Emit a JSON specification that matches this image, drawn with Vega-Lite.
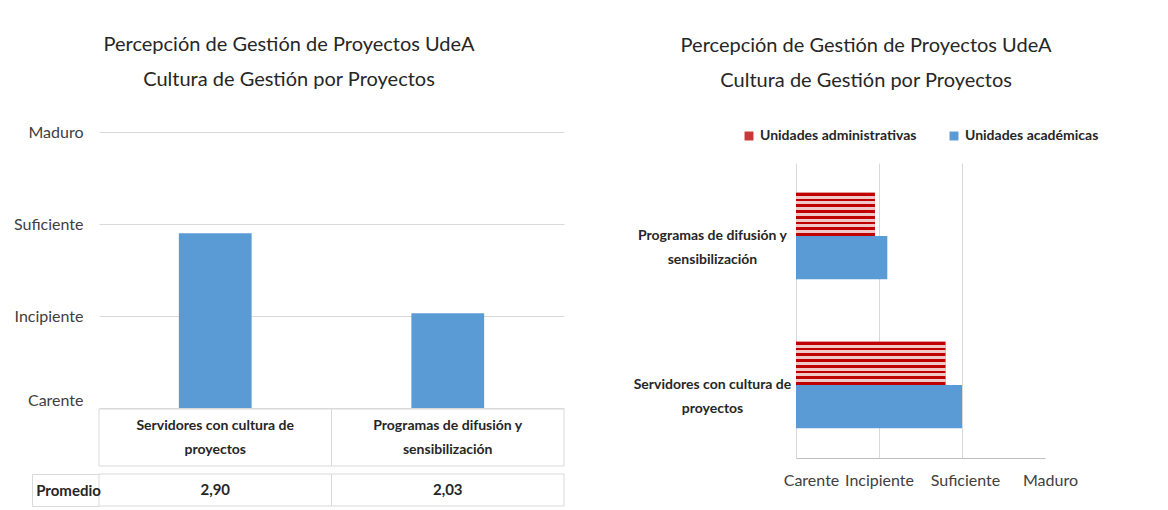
{
  "$schema": "https://vega.github.io/schema/vega-lite/v6.json",
  "background": "white",
  "padding": {"left": 13, "top": 35, "right": 5, "bottom": 5},
  "datasets": {
    "promedio": [
      {"categoria": "Servidores con cultura de proyectos", "valor": 2.90},
      {"categoria": "Programas de difusión y sensibilización", "valor": 2.03}
    ],
    "unidades": [
      {"categoria": "Programas de difusión y sensibilización", "serie": "Unidades administrativas", "valor": 1.95},
      {"categoria": "Programas de difusión y sensibilización", "serie": "Unidades académicas", "valor": 2.10},
      {"categoria": "Servidores con cultura de proyectos", "serie": "Unidades administrativas", "valor": 2.80},
      {"categoria": "Servidores con cultura de proyectos", "serie": "Unidades académicas", "valor": 3.00}
    ]
  },
  "config": {
    "font": "Lato",
    "locale": {"number": {"decimal": ",", "thousands": ".", "grouping": [3], "currency": ["$", ""]}},
    "view": {"stroke": null},
    "axis": {"labelColor": "#404040", "gridColor": "#d9d9d9", "domainColor": "#d9d9d9", "tickColor": "#d9d9d9", "labelLimit": 400},
    "legend": {"layout": {"bottom": {"anchor": "middle"}, "top": {"anchor": "middle"}}, "labelLimit": 400},
    "title": {"color": "#262626"}
  },
  "resolve": {"scale": {"color": "independent"}, "legend": {"color": "independent"}},
  "spacing": 68,
  "hconcat": [
    {
      "title": {
        "text": ["Percepción de Gestión de Proyectos UdeA", "Cultura de Gestión por Proyectos"],
        "fontSize": 20, "lineHeight": 35, "fontWeight": "normal", "anchor": "middle", "frame": "bounds", "offset": 34
      },
      "spacing": 0,
      "vconcat": [
        {
          "width": 465, "height": 276,
          "data": {"name": "promedio"},
          "mark": {"type": "bar", "color": "#5b9bd5", "width": {"band": 0.313}},
          "encoding": {
            "x": {"field": "categoria", "type": "nominal", "sort": null, "scale": {"paddingInner": 0, "paddingOuter": 0}, "axis": null},
            "y": {
              "field": "valor", "type": "quantitative",
              "scale": {"domain": [1, 4], "nice": false, "zero": false},
              "axis": {
                "values": [1, 2, 3, 4], "title": null, "domain": false, "ticks": false,
                "labelExpr": "['', 'Carente', 'Incipiente', 'Suficiente', 'Maduro'][datum.value]",
                "labelFontSize": 16, "labelPadding": 16,
                "labelBaseline": {"condition": {"test": "datum.value === 1", "value": "bottom"}, "value": "middle"}
              }
            },
            "y2": {"datum": 1}
          }
        },
        {
          "width": 465, "height": 57,
          "data": {"name": "promedio"},
          "encoding": {
            "x": {
              "field": "categoria", "type": "nominal", "sort": null,
              "scale": {"paddingInner": 0, "paddingOuter": 0},
              "axis": null
            }
          },
          "layer": [
            {"mark": {"type": "rect", "fill": "white", "stroke": "#d9d9d9", "strokeWidth": 1}},
            {
              "mark": {"type": "text", "fontSize": 14, "fontWeight": "bold", "color": "#262626", "lineHeight": 24, "baseline": "middle", "dy": -12},
              "encoding": {
                "text": {
                  "condition": {"test": "datum.categoria === 'Servidores con cultura de proyectos'", "value": ["Servidores con cultura de", "proyectos"]},
                  "value": ["Programas de difusión y", "sensibilización"]
                }
              }
            }
          ]
        },
        {
          "width": 465, "height": 32,
          "data": {"name": "promedio"},
          "encoding": {
            "x": {
              "field": "categoria", "type": "nominal", "sort": null,
              "scale": {"paddingInner": 0, "paddingOuter": 0},
              "axis": null
            },
            "y": {
              "datum": "Promedio", "type": "nominal",
              "scale": {"type": "band", "paddingInner": 0, "paddingOuter": 0},
              "axis": {
                "title": null, "offset": 67, "domain": true, "ticks": true, "tickBand": "extent", "tickSize": -67,
                "labelAlign": "center", "labelPadding": 31, "labelFontWeight": "bold", "labelFontSize": 15, "labelColor": "#262626"
              }
            }
          },
          "layer": [
            {"mark": {"type": "rect", "fill": "white", "stroke": "#d9d9d9", "strokeWidth": 1}},
            {
              "mark": {"type": "text", "fontWeight": "bold", "fontSize": 15, "color": "#262626"},
              "encoding": {"text": {"field": "valor", "type": "quantitative", "format": ".2f"}}
            }
          ]
        }
      ]
    },
    {
      "title": {
        "text": ["Percepción de Gestión de Proyectos UdeA", "Cultura de Gestión por Proyectos"],
        "fontSize": 20, "lineHeight": 35, "fontWeight": "normal", "anchor": "middle", "frame": "bounds", "offset": 38
      },
      "resolve": {"scale": {"color": "independent"}, "legend": {"color": "independent"}},
      "spacing": 20,
      "vconcat": [
        {
          "width": 249, "height": 1,
          "data": {"name": "unidades"},
          "transform": [{"filter": "false"}],
          "mark": {"type": "rect"},
          "encoding": {
            "color": {
              "field": "serie", "type": "nominal",
              "scale": {"domain": ["Unidades administrativas", "Unidades académicas"], "range": ["#c8383a", "#5b9bd5"]},
              "legend": {
                "orient": "bottom", "direction": "horizontal", "title": null, "symbolType": "square", "symbolSize": 80,
                "labelFontSize": 14, "labelFontWeight": "bold", "labelColor": "#262626", "columnPadding": 30,
                "offset": -4
              }
            }
          }
        },
        {
          "width": 249, "height": 295,
          "data": {"name": "unidades"},
          "encoding": {
            "y": {
              "field": "categoria", "type": "nominal",
              "sort": ["Programas de difusión y sensibilización", "Servidores con cultura de proyectos"],
              "scale": {"paddingInner": 0.42, "paddingOuter": 0.2},
              "axis": {
                "title": null, "domain": false, "ticks": false, "labelAlign": "center", "labelPadding": 84,
                "labelFontSize": 14, "labelFontWeight": "bold", "labelColor": "#262626", "labelLineHeight": 24,
                "labelExpr": "datum.label === 'Servidores con cultura de proyectos' ? ['Servidores con cultura de', 'proyectos'] : ['Programas de difusión y', 'sensibilización']"
              }
            },
            "yOffset": {"field": "serie", "type": "nominal", "sort": ["Unidades administrativas", "Unidades académicas"]},
            "x": {
              "field": "valor", "type": "quantitative",
              "scale": {"domain": [1, 4], "nice": false, "zero": false},
              "axis": {
                "values": [1, 2, 3, 4], "title": null, "ticks": false, "domain": true, "domainColor": "#bfbfbf",
                "labelExpr": "['', 'Carente', 'Incipiente', 'Suficiente', 'Maduro'][datum.value]",
                "labelFontSize": 16, "labelPadding": 14, "labelOverlap": false, "labelFlush": false,
                "labelOffset": {"condition": [{"test": "datum.value === 1", "value": 15}, {"test": "datum.value === 3", "value": 3}, {"test": "datum.value === 4", "value": 5}], "value": 0},
                "gridColor": {"condition": {"test": "datum.value === 4", "value": "transparent"}, "value": "#d9d9d9"}
              }
            },
            "x2": {"datum": 1}
          },
          "layer": [
            {
              "mark": {"type": "bar"},
              "encoding": {
                "color": {
                  "field": "serie", "type": "nominal",
                  "scale": {"domain": ["Unidades administrativas", "Unidades académicas"], "range": ["#c8383a", "#5b9bd5"]},
                  "legend": null
                }
              }
            },
            {
              "transform": [{"filter": "datum.serie === 'Unidades administrativas'"}],
              "mark": {
                "type": "bar",
                "fill": {
                  "gradient": "linear", "x1": 0, "y1": 0, "x2": 0, "y2": 1,
                  "stops": [
                    {"offset": 0, "color": "#c00000"}, {"offset": 0.0667, "color": "#c00000"},
                    {"offset": 0.0667, "color": "#f0c8c8"}, {"offset": 0.1333, "color": "#f0c8c8"},
                    {"offset": 0.1333, "color": "#c00000"}, {"offset": 0.2, "color": "#c00000"},
                    {"offset": 0.2, "color": "#f0c8c8"}, {"offset": 0.2667, "color": "#f0c8c8"},
                    {"offset": 0.2667, "color": "#c00000"}, {"offset": 0.3333, "color": "#c00000"},
                    {"offset": 0.3333, "color": "#f0c8c8"}, {"offset": 0.4, "color": "#f0c8c8"},
                    {"offset": 0.4, "color": "#c00000"}, {"offset": 0.4667, "color": "#c00000"},
                    {"offset": 0.4667, "color": "#f0c8c8"}, {"offset": 0.5333, "color": "#f0c8c8"},
                    {"offset": 0.5333, "color": "#c00000"}, {"offset": 0.6, "color": "#c00000"},
                    {"offset": 0.6, "color": "#f0c8c8"}, {"offset": 0.6667, "color": "#f0c8c8"},
                    {"offset": 0.6667, "color": "#c00000"}, {"offset": 0.7333, "color": "#c00000"},
                    {"offset": 0.7333, "color": "#f0c8c8"}, {"offset": 0.8, "color": "#f0c8c8"},
                    {"offset": 0.8, "color": "#c00000"}, {"offset": 0.8667, "color": "#c00000"},
                    {"offset": 0.8667, "color": "#f0c8c8"}, {"offset": 0.9333, "color": "#f0c8c8"},
                    {"offset": 0.9333, "color": "#c00000"}, {"offset": 1, "color": "#c00000"}
                  ]
                }
              }
            }
          ]
        }
      ]
    }
  ]
}
